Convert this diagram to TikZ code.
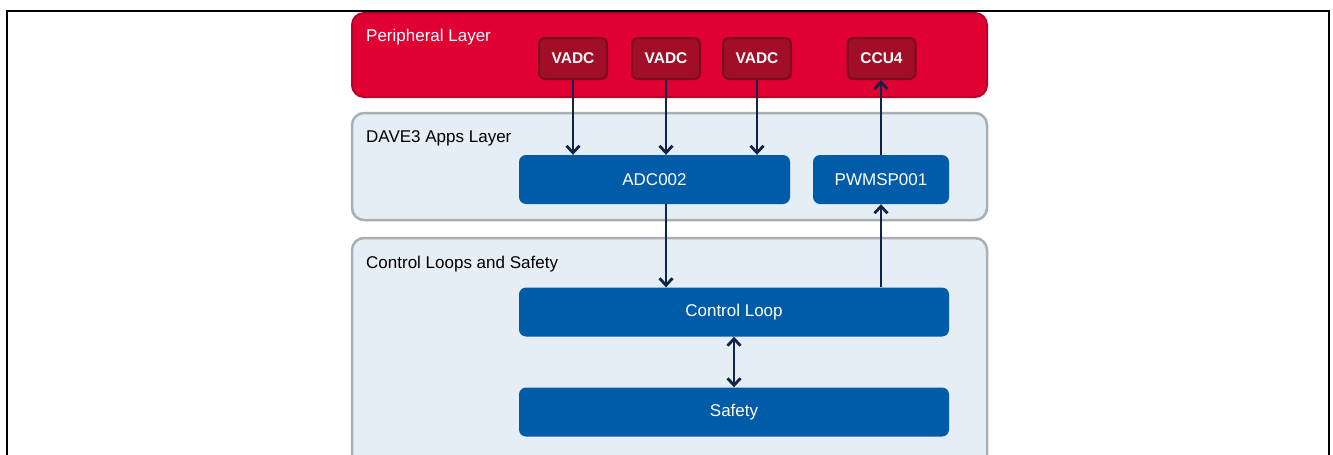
\documentclass[tikz,border=0pt]{standalone}
\usepackage{fontspec}
\setmainfont{Liberation Sans}
\usetikzlibrary{arrows.meta}
\definecolor{perRed}{HTML}{E00032}
\definecolor{perBorder}{HTML}{B8002A}
\definecolor{vadcFill}{HTML}{A00E27}
\definecolor{vadcBorder}{HTML}{7E0A1E}
\definecolor{appBlue}{HTML}{005CA9}
\definecolor{layerFill}{HTML}{E6EEF5}
\definecolor{layerBorder}{HTML}{A8B0B6}
\definecolor{arrowNavy}{HTML}{10254A}
\begin{document}
\begin{tikzpicture}[x=1pt,y=-1pt,
  layerbox/.style={draw=layerBorder, line width=2.5pt, fill=layerFill, rounded corners=12pt, inner sep=0pt},
  perlayer/.style={draw=perBorder, line width=2pt, fill=perRed, rounded corners=12pt, inner sep=0pt},
  hwbox/.style={draw=vadcBorder, line width=2pt, fill=vadcFill, rounded corners=6pt, minimum width=68pt, minimum height=41pt, inner sep=0pt, text=white, font=\bfseries\fontsize{15.5}{18}\selectfont},
  appbox/.style={fill=appBlue, rounded corners=7pt, minimum height=49pt, inner sep=0pt, text=white, font=\fontsize{17}{20}\selectfont},
  layerlabel/.style={anchor=west, inner sep=0pt, font=\fontsize{17}{20}\selectfont},
  arr/.style={draw=arrowNavy, line width=2.8pt, -{Straight Barb[length=7pt,width=13pt]}},
  darr/.style={draw=arrowNavy, line width=2.8pt, {Straight Barb[length=7pt,width=13pt]}-{Straight Barb[length=7pt,width=13pt]}}
]
\useasboundingbox (0,0) rectangle (1333,455);
\fill[white] (0,0) rectangle (1333,455);
% outer frame
\draw[line width=2.5pt] (7,470) -- (7,11) -- (1329,11) -- (1329,470);

% layers
\node[perlayer, minimum width=635pt, minimum height=84pt] (per) at (669.5,55) {};
\node[layerbox, minimum width=635pt, minimum height=107pt] (apps) at (669.5,166.5) {};
\node[layerbox, minimum width=635pt, minimum height=240pt] (ctrl) at (669.5,358) {};

\node[layerlabel, text=white] (perlbl) at (366,37) {Peripheral Layer};
\node[layerlabel] (appslbl) at (366,138) {DAVE3 Apps Layer};
\node[layerlabel] (ctrllbl) at (366,264) {Control Loops and Safety};

% peripherals
\node[hwbox] (v1) at (573,58.5) {VADC};
\node[hwbox] (v2) at (666,58.5) {VADC};
\node[hwbox] (v3) at (757,58.5) {VADC};
\node[hwbox] (ccu) at (881.5,58.5) {CCU4};

% apps
\node[appbox, minimum width=271pt] (adc) at (654.5,179.5) {ADC002};
\node[appbox, minimum width=136pt] (pwm) at (881,179.5) {PWMSP001};

% control
\node[appbox, minimum width=430pt] (cl) at (734,312) {Control Loop};
\node[appbox, minimum width=430pt] (saf) at (734,412) {Safety};

% connectors
\draw[arr] (v1.south) -- (v1.south |- adc.north);
\draw[arr] (v2.south) -- (v2.south |- adc.north);
\draw[arr] (v3.south) -- (v3.south |- adc.north);
\draw[arr] (pwm.north) -- (pwm.north |- ccu.south);
\draw[arr] (adc.south -| v2.south) -- (cl.north -| v2.south);
\draw[arr] (cl.north -| pwm.south) -- (pwm.south);
\draw[darr] (cl.south) -- (saf.north);
\end{tikzpicture}
\end{document}
